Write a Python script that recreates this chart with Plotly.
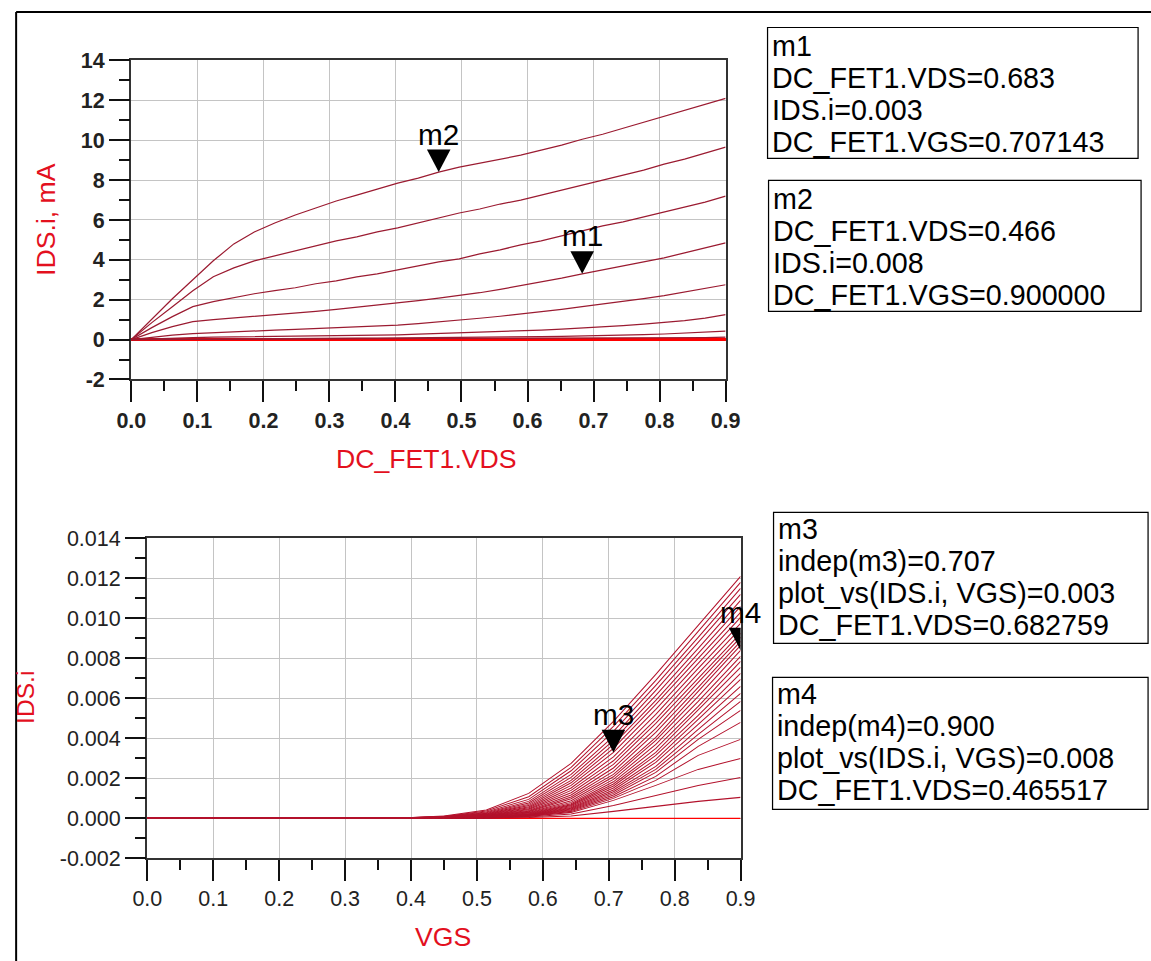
import plotly.graph_objects as go

# The rendered page appears as  shown = A + S * drawn ; compensate so that the
# drawn figure lands on the reference picture's pixel positions.
S = 0.9755
AX, AY = 13.5, 11.5
REF_W, REF_H = 1151, 961
W = int(round((REF_W - AX) / S))
H = int(round((REF_H - AY) / S)) + 1

# ---------------- data ----------------
VDS = [0.0, 0.0310, 0.0621, 0.0931, 0.1241, 0.1552, 0.1862, 0.2172, 0.2483, 0.2793,
       0.3103, 0.3414, 0.3724, 0.4034, 0.4345, 0.4655, 0.4966, 0.5276, 0.5586, 0.5897,
       0.6207, 0.6517, 0.6828, 0.7138, 0.7448, 0.7759, 0.8069, 0.8379, 0.8690, 0.9]
VGS = [0.0, 0.0643, 0.1286, 0.1929, 0.2571, 0.3214, 0.3857, 0.45, 0.5143, 0.5786,
       0.6429, 0.7071, 0.7714, 0.8357, 0.9]

# IDS (mA) for each VGS step, sampled at the VDS points
IDS_VGS_000 = [0.0] * 30
IDS_VGS_064 = [0.0] * 30
IDS_VGS_129 = [0.0] * 30
IDS_VGS_193 = [0.0] * 30
IDS_VGS_257 = [0.0] * 30
IDS_VGS_321 = [0.0] * 30
IDS_VGS_386 = [0, 0.001, 0.001, 0.002, 0.002, 0.002, 0.003, 0.003, 0.003, 0.004, 0.004, 0.004, 0.005, 0.005, 0.005,
               0.006, 0.006, 0.007, 0.007, 0.008, 0.008, 0.009, 0.01, 0.011, 0.012, 0.013, 0.014, 0.016, 0.018, 0.02]
IDS_VGS_450 = [0, 0.003, 0.006, 0.009, 0.011, 0.013, 0.015, 0.017, 0.019, 0.021, 0.023, 0.025, 0.027, 0.029, 0.031,
               0.034, 0.037, 0.04, 0.043, 0.046, 0.05, 0.054, 0.058, 0.063, 0.068, 0.074, 0.081, 0.09, 0.1, 0.12]
IDS_VGS_514 = [0, 0.01, 0.02, 0.03, 0.035, 0.04, 0.045, 0.05, 0.055, 0.06, 0.065, 0.07, 0.075, 0.08, 0.09,
               0.1, 0.11, 0.12, 0.13, 0.14, 0.15, 0.165, 0.18, 0.2, 0.22, 0.25, 0.28, 0.32, 0.37, 0.42]
IDS_VGS_579 = [0, 0.04, 0.07, 0.1, 0.12, 0.13, 0.14, 0.15, 0.16, 0.17, 0.18, 0.2, 0.22, 0.24, 0.27,
               0.3, 0.33, 0.36, 0.4, 0.44, 0.48, 0.53, 0.58, 0.64, 0.7, 0.77, 0.85, 0.95, 1.08, 1.25]
IDS_VGS_643 = [0, 0.12, 0.22, 0.3, 0.35, 0.39, 0.43, 0.47, 0.51, 0.55, 0.6, 0.64, 0.68, 0.73, 0.8,
               0.88, 0.98, 1.07, 1.17, 1.28, 1.4, 1.52, 1.65, 1.78, 1.9, 2.05, 2.2, 2.38, 2.55, 2.75]
IDS_VGS_707 = [0, 0.35, 0.65, 0.9, 1.0, 1.08, 1.17, 1.25, 1.33, 1.42, 1.52, 1.62, 1.72, 1.83, 1.95,
               2.08, 2.2, 2.35, 2.52, 2.7, 2.88, 3.08, 3.3, 3.5, 3.7, 3.9, 4.1, 4.35, 4.6, 4.85]
IDS_VGS_771 = [0, 0.6, 1.15, 1.65, 1.9, 2.1, 2.3, 2.45, 2.6, 2.8, 2.95, 3.15, 3.3, 3.5, 3.7,
               3.9, 4.05, 4.3, 4.5, 4.75, 4.95, 5.2, 5.45, 5.7, 5.9, 6.15, 6.4, 6.65, 6.9, 7.2]
IDS_VGS_836 = [0, 0.85, 1.65, 2.45, 3.15, 3.6, 3.95, 4.2, 4.45, 4.7, 4.95, 5.15, 5.4, 5.6, 5.85,
               6.1, 6.35, 6.55, 6.8, 7.0, 7.25, 7.5, 7.75, 8.0, 8.25, 8.5, 8.8, 9.05, 9.35, 9.65]
IDS_VGS_900 = [0, 1.05, 2.05, 3.0, 3.95, 4.8, 5.4, 5.85, 6.25, 6.6, 6.95, 7.25, 7.55, 7.85, 8.1,
               8.4, 8.65, 8.85, 9.05, 9.25, 9.5, 9.75, 10.05, 10.3, 10.6, 10.9, 11.2, 11.5, 11.8, 12.1]

IDS_MA = [IDS_VGS_000, IDS_VGS_064, IDS_VGS_129, IDS_VGS_193, IDS_VGS_257, IDS_VGS_321,
          IDS_VGS_386, IDS_VGS_450, IDS_VGS_514, IDS_VGS_579, IDS_VGS_643, IDS_VGS_707,
          IDS_VGS_771, IDS_VGS_836, IDS_VGS_900]

TOP_X_TICKS = [0.0, 0.1, 0.2, 0.3, 0.4, 0.5, 0.6, 0.7, 0.8, 0.9]
TOP_X_LABELS = ["0.0", "0.1", "0.2", "0.3", "0.4", "0.5", "0.6", "0.7", "0.8", "0.9"]
TOP_Y_TICKS = [-2, 0, 2, 4, 6, 8, 10, 12, 14]
TOP_Y_LABELS = ["-2", "0", "2", "4", "6", "8", "10", "12", "14"]
BOT_Y_TICKS = [-0.002, 0.0, 0.002, 0.004, 0.006, 0.008, 0.010, 0.012, 0.014]
BOT_Y_LABELS = ["-0.002", "0.000", "0.002", "0.004", "0.006", "0.008", "0.010", "0.012", "0.014"]

# markers: (name, VGS index, VDS index)
TOP_MARKERS = [("m1", 11, 22), ("m2", 14, 15)]
BOT_MARKERS = [("m3", 11, 22), ("m4", 14, 15)]

BOX_M1 = ["m1", "DC_FET1.VDS=0.683", "IDS.i=0.003", "DC_FET1.VGS=0.707143"]
BOX_M2 = ["m2", "DC_FET1.VDS=0.466", "IDS.i=0.008", "DC_FET1.VGS=0.900000"]
BOX_M3 = ["m3", "indep(m3)=0.707", "plot_vs(IDS.i, VGS)=0.003", "DC_FET1.VDS=0.682759"]
BOX_M4 = ["m4", "indep(m4)=0.900", "plot_vs(IDS.i, VGS)=0.008", "DC_FET1.VDS=0.465517"]

# ---------------- figure ----------------
FONT = "Liberation Sans, Arial, sans-serif"
TRACE = "#9b1b31"
FAN = "#b3122c"
RED = "#ff0000"
TITLE_RED = "#e3101e"


def sz(v):
    """size as seen in the reference -> size to draw"""
    return v / S


def px_x(p):
    """reference-picture x pixel -> paper fraction"""
    return (p - AX) / S / W


def px_y(p):
    """reference-picture y pixel -> paper fraction"""
    return 1 - (p - AY) / S / H


fig = go.Figure()

for i, row in enumerate(IDS_MA):
    near_zero = max(row) < 0.05
    fig.add_trace(go.Scatter(
        x=VDS, y=row, mode="lines", xaxis="x", yaxis="y",
        line=dict(color=RED if near_zero else TRACE, width=sz(3) if near_zero else sz(1.2)),
        showlegend=False, hoverinfo="skip"))

for j in range(len(VDS)):
    col = [IDS_MA[i][j] / 1000.0 for i in range(len(VGS))]
    fig.add_trace(go.Scatter(
        x=VGS, y=col, mode="lines", xaxis="x2", yaxis="y2",
        line=dict(color=RED if j == 0 else FAN, width=sz(1)),
        showlegend=False, hoverinfo="skip"))

common = dict(
    showgrid=True, gridcolor="#c4c4c4", gridwidth=1,
    ticks="outside", ticklen=sz(20), tickwidth=sz(1.5), tickcolor="#111",
    showline=True, linecolor="#333", linewidth=sz(1.5), mirror=True,
    zeroline=False, tickmode="array",
)


def minor(dt):
    return dict(dtick=dt, tick0=0, ticklen=sz(10), ticks="outside",
                tickcolor="#111", tickwidth=sz(1.5), showgrid=False)


fig.update_layout(
    width=W, height=H, margin=dict(l=0, r=0, t=0, b=0),
    paper_bgcolor="white", plot_bgcolor="white",
    font=dict(family=FONT, color="black"),
    xaxis=dict(domain=[px_x(130), px_x(725)], range=[0, 0.9], anchor="y",
               tickvals=TOP_X_TICKS, ticktext=TOP_X_LABELS,
               tickfont=dict(size=sz(21), weight="bold", color="#222"),
               minor=minor(0.05), **common),
    yaxis=dict(domain=[px_y(380), px_y(61)], range=[-2, 14], anchor="x",
               tickvals=TOP_Y_TICKS, ticktext=TOP_Y_LABELS,
               tickfont=dict(size=sz(21), weight="bold", color="#222"),
               minor=minor(1), **common),
    xaxis2=dict(domain=[px_x(146), px_x(740)], range=[0, 0.9], anchor="y2",
                tickvals=TOP_X_TICKS, ticktext=TOP_X_LABELS,
                tickfont=dict(size=sz(21), color="#222"),
                minor=minor(0.05), **common),
    yaxis2=dict(domain=[px_y(859), px_y(539)], range=[-0.002, 0.014], anchor="x2",
                tickvals=BOT_Y_TICKS, ticktext=BOT_Y_LABELS,
                tickfont=dict(size=sz(21), color="#222"),
                minor=minor(0.001), **common),
)

annotations = []
shapes = []

# axis titles (explicitly centred on their reference positions)
title_common = dict(xref="paper", yref="paper", showarrow=False,
                    xanchor="center", yanchor="middle")
annotations += [
    dict(text="IDS.i, mA", x=px_x(45), y=px_y(220), textangle=-90,
         font=dict(size=sz(26), color=TITLE_RED), **title_common),
    dict(text="DC_FET1.VDS", x=px_x(426), y=px_y(460),
         font=dict(size=sz(26), color=TITLE_RED), **title_common),
    dict(text="IDS.i", x=px_x(24), y=px_y(698), textangle=-90,
         font=dict(size=sz(24), color=TITLE_RED), **title_common),
    dict(text="VGS", x=px_x(442), y=px_y(938),
         font=dict(size=sz(26), color=TITLE_RED), **title_common),
]

# markers
tw, th = sz(11.5), sz(22)
TRI = f"M0,0 L{-tw:.2f},{th:.2f} L{tw:.2f},{th:.2f} Z"
for markers, xr, yr, scale in [(TOP_MARKERS, "x", "y", 1.0),
                               (BOT_MARKERS, "x2", "y2", 0.001)]:
    for name, gi, di in markers:
        mx = VDS[di] if xr == "x" else VGS[gi]
        my = IDS_MA[gi][di] * scale
        shapes.append(dict(type="path", xref=xr, yref=yr, xsizemode="pixel", ysizemode="pixel",
                           xanchor=mx, yanchor=my, path=TRI, fillcolor="black",
                           line=dict(width=0)))
        annotations.append(dict(text=name, x=mx, y=my, xref=xr, yref=yr, showarrow=False,
                                xanchor="center", yanchor="middle",
                                yshift=sz(37), font=dict(size=sz(29), color="black")))

# marker readout boxes
boxes = [
    (BOX_M1, (767, 28, 1138, 159), [47, 79, 111, 143], 769),
    (BOX_M2, (768, 181, 1141, 312), [200, 232, 264, 296], 770),
    (BOX_M3, (773, 513, 1148, 644), [530, 562, 594, 626], 775),
    (BOX_M4, (772, 678, 1148, 810), [695, 727, 759, 791], 774),
]
for lines, (x0, y0, x1, y1), mids, tx in boxes:
    shapes.append(dict(type="rect", xref="paper", yref="paper",
                       x0=px_x(x0), x1=px_x(x1), y0=px_y(y1), y1=px_y(y0),
                       line=dict(color="black", width=sz(1.2)), fillcolor="rgba(0,0,0,0)"))
    for txt, m in zip(lines, mids):
        annotations.append(dict(text=txt, x=px_x(tx), y=px_y(m), xref="paper", yref="paper",
                                xanchor="left", yanchor="middle", showarrow=False,
                                font=dict(size=sz(28), color="black")))

# outer frame (left and top edges)
fx, fy = max(px_x(7), 0.001), min(px_y(5), 0.999)
shapes.append(dict(type="line", xref="paper", yref="paper",
                   x0=fx, x1=fx, y0=0, y1=fy, line=dict(color="black", width=2)))
shapes.append(dict(type="line", xref="paper", yref="paper",
                   x0=fx, x1=1, y0=fy, y1=fy, line=dict(color="black", width=2)))

fig.update_layout(annotations=annotations, shapes=shapes)
fig.write_html(
    "out.html",
    post_script="document.body.style.margin='0px';document.body.style.padding='0px';"
                "document.documentElement.style.overflow='hidden';",
)
